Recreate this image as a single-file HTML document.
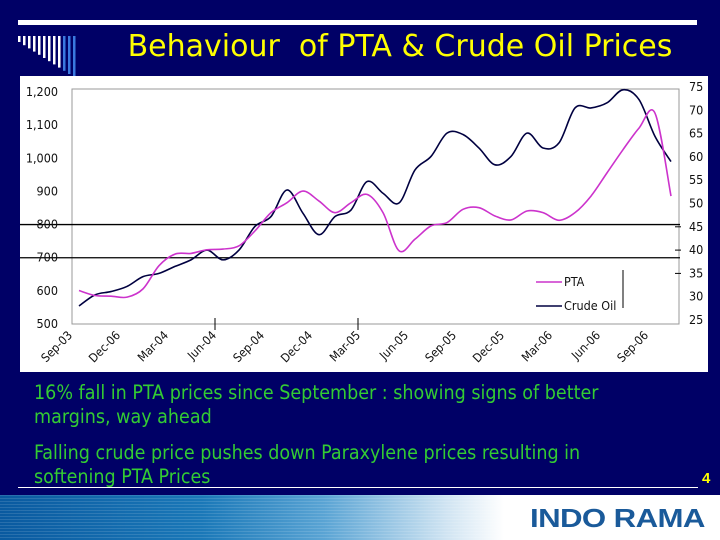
<!DOCTYPE html>
<html><head><meta charset="utf-8"><style>
body{margin:0;width:720px;height:540px;background:#000066;overflow:hidden;position:relative;font-family:"Liberation Sans",sans-serif}
.abs{position:absolute}
</style></head><body>
<div class="abs" style="left:18px;top:20px;width:679px;height:5px;background:#fff"></div>
<svg class="abs" style="left:0;top:0" width="100" height="80">
<g id="deco"></g></svg>
<div class="abs" style="left:100px;top:29px;width:600px;text-align:center;color:#ffff00;font-size:30px;font-family:'DejaVu Sans',sans-serif;white-space:nowrap">Behaviour&nbsp; of PTA &amp; Crude Oil Prices</div>
<svg class="abs" style="left:0;top:0" width="720" height="540" id="chart"></svg>
<div class="abs" style="left:34px;top:381px;width:590px;color:#33cc33;font-size:19.5px;line-height:24px;font-family:'DejaVu Sans Condensed',sans-serif">16% fall in PTA prices since September : showing signs of better margins, way ahead</div>
<div class="abs" style="left:34px;top:441px;width:590px;color:#33cc33;font-size:19.5px;line-height:24px;font-family:'DejaVu Sans Condensed',sans-serif">Falling crude price pushes down Paraxylene prices resulting in softening PTA Prices</div>
<div class="abs" style="left:18px;top:487px;width:680px;height:1px;background:#fff"></div>
<div class="abs" style="left:702px;top:470px;color:#ffff00;font-size:15px;font-weight:bold">4</div>
<div class="abs" style="left:0;top:495px;width:720px;height:45px;background:linear-gradient(90deg,#0a5aa0 0%,#1a78b8 28%,#5aa4d4 45%,#d0e4f2 62%,#fff 70%,#fff 100%)"></div>
<div class="abs" style="left:0;top:495px;width:500px;height:45px;background:repeating-linear-gradient(180deg,rgba(255,255,255,0.12) 0 1px,rgba(0,0,0,0) 1px 3px)"></div>
<div class="abs" style="left:530px;top:503px;color:#1a5a9a;font-size:26px;font-weight:900;letter-spacing:-0.5px;font-family:'Liberation Sans',sans-serif;transform:scaleX(1.2);transform-origin:left;white-space:nowrap">INDO RAMA</div>
<script>
const months=['Sep-03','Dec-06','Mar-04','Jun-04','Sep-04','Dec-04','Mar-05','Jun-05','Sep-05','Dec-05','Mar-06','Jun-06','Sep-06'];
const leftTicks=[500,600,700,800,900,1000,1100,1200];
const rightTicks=[25,30,35,40,45,50,55,60,65,70,75];
const pta=[601,586,584,581,606,676,711,713,724,726,736,781,836,866,901,871,836,866,891,836,721,756,796,806,846,851,826,814,841,836,813,836,886,956,1026,1091,1136,886];
const crude=[28.0,30.4,31.1,32.2,34.3,35.0,36.5,37.9,40.0,37.9,40.0,45.1,47.2,52.9,47.9,43.3,47.2,48.6,54.7,52.2,50.1,57.2,60.1,65.1,64.8,61.9,58.3,60.1,65.1,61.9,63.0,70.5,70.5,71.6,74.4,72.3,64.4,59.0];
const NS='http://www.w3.org/2000/svg';
const svg=document.getElementById('chart');
function mk(t,a,p){const e=document.createElementNS(NS,t);for(const k in a)e.setAttribute(k,a[k]);(p||svg).appendChild(e);return e;}
const deco=document.getElementById('deco');
for(let i=0;i<12;i++){const c=i<9?'#ffffff':'#3a7ae0';const r=mk('rect',{x:18+i*5,y:36,width:2.5,height:6+i*3.2,fill:c},deco);

}
const px0=79,px1=671;
const xs=i=>px0+i*(px1-px0)/37;
const yL=v=>92+(1200-v)*(324-92)/700;
const yR=v=>87+(75-v)*(320-87)/50;
const panel=mk('rect',{x:20,y:76,width:688,height:296,fill:'#fff'});


const plotBox=mk('rect',{x:72,y:89,width:607,height:235,fill:'none',stroke:'#999','stroke-width':1});


[800,700].forEach(v=>{const l=mk('line',{x1:20,x2:680,y1:yL(v),y2:yL(v),stroke:'#000','stroke-width':1.3});

});
leftTicks.forEach(v=>{const t=mk('text',{x:58,y:yL(v)+4,'text-anchor':'end','font-size':12.5,fill:'#111','font-family':'DejaVu Sans Condensed, sans-serif'});t.textContent=v.toLocaleString('en-US');

});
rightTicks.forEach(v=>{const t=mk('text',{x:689,y:yR(v)+4,'font-size':12.5,fill:'#111','font-family':'DejaVu Sans Condensed, sans-serif'});t.textContent=v;

});
[35,40,45].forEach(v=>{const l=mk('line',{x1:675,x2:681,y1:yR(v),y2:yR(v),stroke:'#000'});

});
months.forEach((m,i)=>{const x=px0+i*3*(px1-px0)/37-6,y=336;
const t=mk('text',{x:x,y:y,'text-anchor':'end','font-size':12,fill:'#111','font-family':'DejaVu Sans Condensed, sans-serif',transform:`rotate(-45 ${x} ${y})`});t.textContent=m;

});
[0,1].forEach(k=>{const x=[215,358][k];const l=mk('line',{x1:x,x2:x,y1:318,y2:330,stroke:'#000'});

});
function smooth(pts){let d=`M${pts[0][0]},${pts[0][1]}`;for(let i=0;i<pts.length-1;i++){const p0=pts[Math.max(0,i-1)],p1=pts[i],p2=pts[i+1],p3=pts[Math.min(pts.length-1,i+2)];
d+=` C${p1[0]+(p2[0]-p0[0])/6},${p1[1]+(p2[1]-p0[1])/6} ${p2[0]-(p3[0]-p1[0])/6},${p2[1]-(p3[1]-p1[1])/6} ${p2[0]},${p2[1]}`;}return d;}
const cl=mk('path',{d:smooth(crude.map((v,i)=>[xs(i),yR(v)])),fill:'none',stroke:'#000040','stroke-width':1.6});


const pl=mk('path',{d:smooth(pta.map((v,i)=>[xs(i),yL(v)])),fill:'none',stroke:'#cc33cc','stroke-width':1.6});


const lg=mk('g',{});


mk('line',{x1:536,x2:562,y1:282,y2:282,stroke:'#cc33cc','stroke-width':1.6},lg);
mk('line',{x1:536,x2:562,y1:306,y2:306,stroke:'#000040','stroke-width':1.6},lg);
const t1=mk('text',{x:564,y:286,'font-size':12.5,fill:'#111','font-family':'DejaVu Sans Condensed, sans-serif'},lg);t1.textContent='PTA';


const t2=mk('text',{x:564,y:310,'font-size':12.5,fill:'#111','font-family':'DejaVu Sans Condensed, sans-serif'},lg);t2.textContent='Crude Oil';


mk('line',{x1:623,x2:623,y1:270,y2:308,stroke:'#000'},lg);
</script>
</body></html>
